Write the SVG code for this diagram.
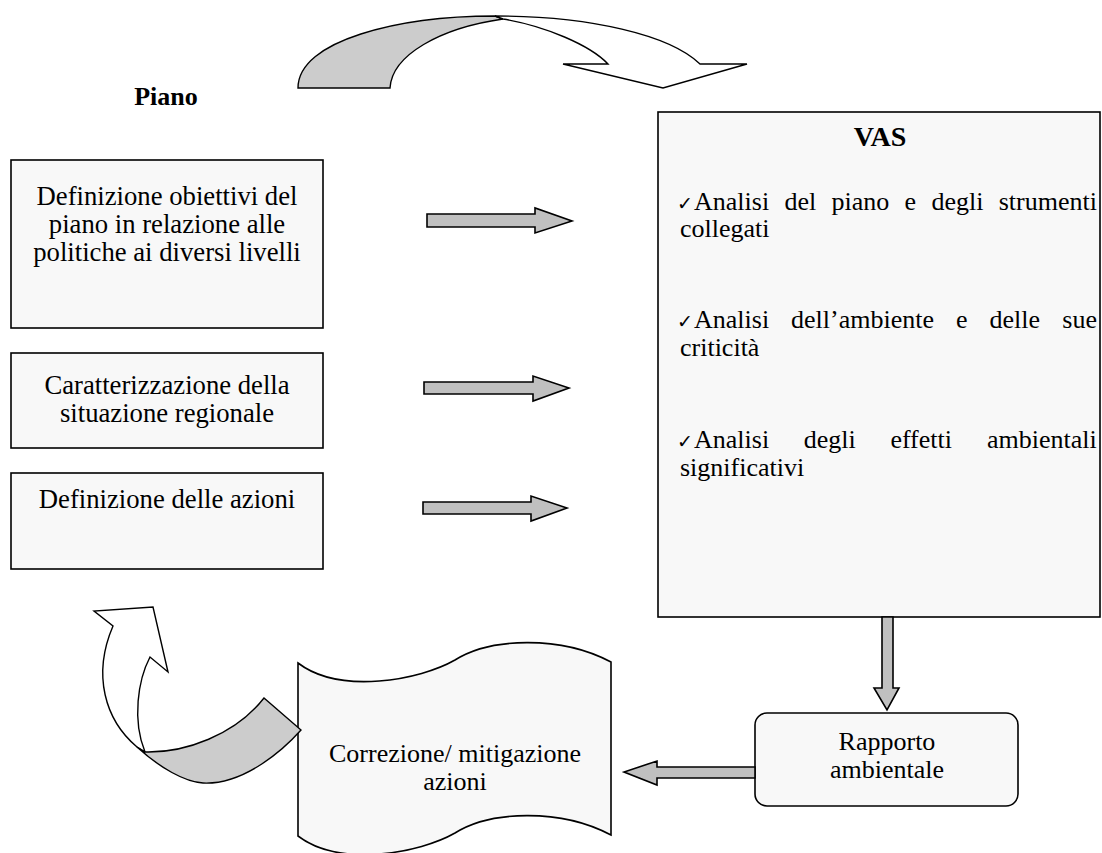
<svg xmlns="http://www.w3.org/2000/svg" width="1102" height="853" viewBox="0 0 1102 853">
<style>
  .box { fill: #f8f8f8; stroke: #000; stroke-width: 1.6; }
  .arr { fill: #c0c0c0; stroke: #000; stroke-width: 1.6; stroke-linejoin: miter; }
  .curve-g { fill: #cccccc; stroke: #000; stroke-width: 1.4; }
  .curve-w { fill: #ffffff; stroke: #000; stroke-width: 1.4; }
  text { font-family: "Liberation Serif", "Times New Roman", serif; font-size: 26px; fill: #000; }
  .lb { font-size: 26.7px; }
  .c { text-anchor: middle; }
  .b { font-weight: bold; }
  .chk { font-family: "DejaVu Sans", sans-serif; font-size: 19px; }
</style>
<rect width="1102" height="853" fill="#ffffff"/>

<g id="top-curved-arrow">
  <path class="curve-g" d="M298,88 C298,40 400,16 495,16 L503,19 C440,28 392,55 390,88 Z"/>
  <path class="curve-w" d="M495,16 C590,16 670,35 700,64 L747,64 L663,88 L563,64 L608,64 C590,45 545,26 503,19 Z"/>
</g>

<g id="piano-label">
  <text class="c b" x="166" y="105">Piano</text>
</g>

<g id="box-obiettivi">
  <rect class="box" x="11" y="160" width="312" height="168"/>
  <text class="c lb" x="167" y="205">Definizione obiettivi del</text>
  <text class="c lb" x="167" y="233">piano in relazione alle</text>
  <text class="c lb" x="167" y="261">politiche ai diversi livelli</text>
</g>

<g id="box-caratterizzazione">
  <rect class="box" x="11" y="353" width="312" height="95"/>
  <text class="c lb" x="167" y="394">Caratterizzazione della</text>
  <text class="c lb" x="167" y="422">situazione regionale</text>
</g>

<g id="box-azioni">
  <rect class="box" x="11" y="473" width="312" height="96"/>
  <text class="c lb" x="167" y="508">Definizione delle azioni</text>
</g>

<g id="box-vas">
  <rect class="box" x="658" y="112" width="442" height="505"/>
  <text class="c b" x="880" y="146" style="font-size:28px">VAS</text>
  <text y="210"><tspan class="chk" x="677">✓</tspan><tspan x="694">Analisi</tspan><tspan x="784.4">del</tspan><tspan x="831.5">piano</tspan><tspan x="904.6">e</tspan><tspan x="931.4">degli</tspan><tspan x="998.7">strumenti</tspan></text>
  <text x="680" y="237">collegati</text>
  <text y="328"><tspan class="chk" x="677">✓</tspan><tspan x="694">Analisi</tspan><tspan x="791">dell’ambiente</tspan><tspan x="956">e</tspan><tspan x="989.5">delle</tspan><tspan x="1062.3">sue</tspan></text>
  <text x="680" y="356">criticità</text>
  <text y="448"><tspan class="chk" x="677">✓</tspan><tspan x="694">Analisi</tspan><tspan x="803.7">degli</tspan><tspan x="890.4">effetti</tspan><tspan x="987">ambientali</tspan></text>
  <text x="680" y="476">significativi</text>
</g>

<g id="box-rapporto">
  <rect class="box" x="755" y="713" width="263" height="93" rx="12" ry="12"/>
  <text class="c" x="887" y="750">Rapporto</text>
  <text class="c" x="887" y="778">ambientale</text>
</g>

<g id="box-correzione">
  <path class="box" d="M298,663 C340,695 420,680 455,660 C490,638 560,635 611,662 L611,835 C560,808 490,811 455,833 C420,853 340,868 298,836 Z"/>
  <text class="c" x="455" y="762">Correzione/ mitigazione</text>
  <text class="c" x="455" y="790">azioni</text>
</g>

<g id="bottom-curved-arrow">
  <path class="curve-w" d="M137,747 C105,720 92,675 113,626 L94,611 L153,607 L168,672 L150,657 C138,680 132,720 145,752 Z"/>
  <path class="curve-g" d="M301,730 C285,748 245,785 203,783 C185,782 160,768 137,747 L145,752 C185,753 235,735 264,698 Z"/>
</g>

<g id="connectors">
  <path class="arr" d="M427,214 L535,214 L535,208 L572,221 L535,233 L535,227 L427,227 Z"/>
  <path class="arr" d="M424,382 L533,382 L533,376 L569,388 L533,401 L533,394 L424,394 Z"/>
  <path class="arr" d="M423,502 L531,502 L531,496 L567,508 L531,521 L531,514 L423,514 Z"/>
  <path class="arr" d="M882,617 L893,617 L893,688 L899,688 L887,710 L874,688 L882,688 Z"/>
  <path class="arr" d="M755,767 L657,767 L657,761 L624,772 L657,785 L657,778 L755,778 Z"/>
</g>
</svg>
